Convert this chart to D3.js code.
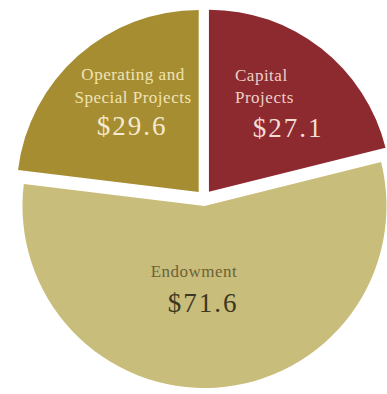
<!DOCTYPE html>
<html>
<head>
<meta charset="utf-8">
<script src="https://cdn.jsdelivr.net/npm/d3@7"></script>
<style>
  html, body { margin: 0; padding: 0; background: #ffffff; }
  svg { display: block; }
</style>
</head>
<body>
<svg id="chart" width="387" height="394"></svg>
<script>
// Funding by category, in millions of dollars (clockwise from 12 o'clock)
const categories = ["Capital Projects", "Endowment", "Operating and Special Projects"];
const values = [27.1, 71.6, 29.6];
const valueLabels = ["$27.1", "$71.6", "$29.6"];
const nameLines = [["Capital", "Projects"], ["Endowment"], ["Operating and", "Special Projects"]];

const fills = ["#8d2a30", "#c9bd7c", "#a68d31"];
const nameColors = ["#ecd0c8", "#6c6236", "#f0e4b6"];
const valueColors = ["#f2dcd4", "#3c3920", "#f4ead0"];

const width = 387, height = 394;
const cx = 204, cy = 198, radius = 182, explode = 8;

// Text placement for each slice (name block and value)
const layout = [
  { nameX: 235, nameAnchor: "start", nameY: [81, 103], valueX: 288, valueY: 137 },
  { nameX: 194, nameAnchor: "middle", nameY: [277], valueX: 203, valueY: 312 },
  { nameX: 133, nameAnchor: "middle", nameY: [80, 103], valueX: 132, valueY: 135 }
];

const svg = d3.select("#chart");

const pie = d3.pie().sort(null).startAngle(0).endAngle(2 * Math.PI);
const arcs = pie(values);
const arc = d3.arc().innerRadius(0).outerRadius(radius);

const g = svg.append("g").attr("transform", `translate(${cx},${cy})`);

g.selectAll("path.slice")
  .data(arcs)
  .join("path")
  .attr("class", "slice")
  .attr("d", arc)
  .attr("fill", (d, i) => fills[i])
  .attr("transform", d => {
    const mid = (d.startAngle + d.endAngle) / 2;
    return `translate(${Math.sin(mid) * explode},${-Math.cos(mid) * explode})`;
  });

const serif = "'Liberation Serif', 'Times New Roman', serif";

categories.forEach((c, i) => {
  const L = layout[i];
  nameLines[i].forEach((line, j) => {
    svg.append("text")
      .attr("x", L.nameX)
      .attr("y", L.nameY[j])
      .attr("text-anchor", L.nameAnchor)
      .attr("font-family", serif)
      .attr("font-size", 17)
      .attr("letter-spacing", 0.5)
      .attr("fill", nameColors[i])
      .text(line);
  });
  svg.append("text")
    .attr("x", L.valueX)
    .attr("y", L.valueY)
    .attr("text-anchor", "middle")
    .attr("font-family", serif)
    .attr("font-size", 27)
    .attr("letter-spacing", 2)
    .attr("fill", valueColors[i])
    .text(valueLabels[i]);
});
</script>
</body>
</html>
